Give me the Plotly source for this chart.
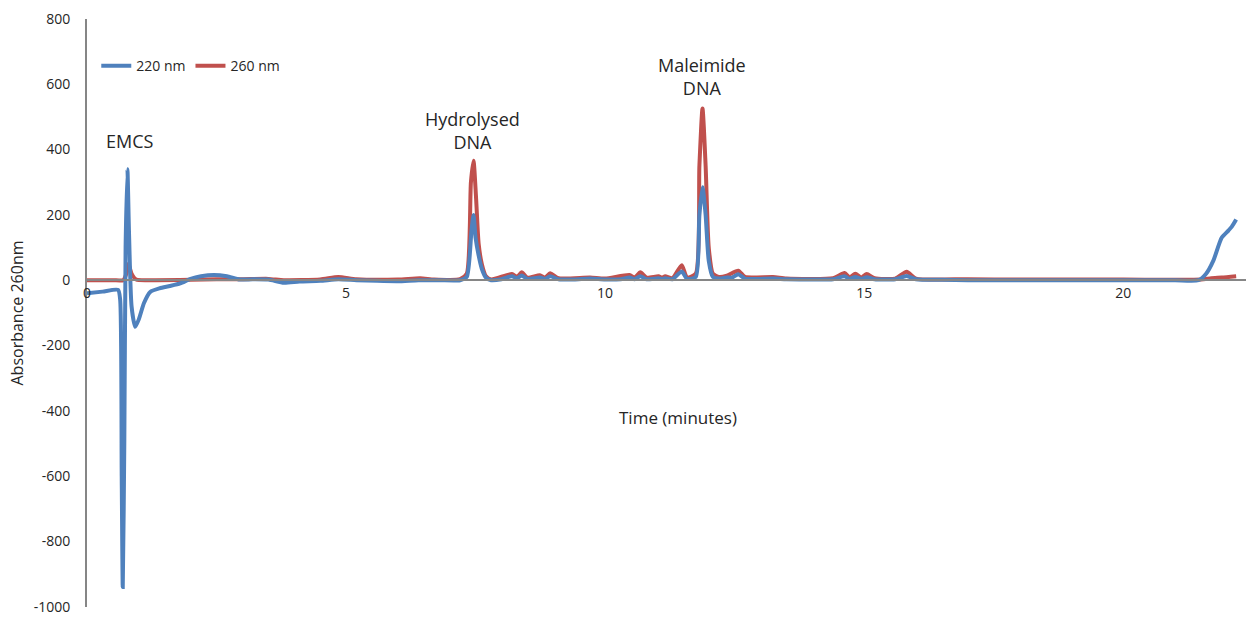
import plotly.graph_objects as go

# 220 nm trace (time in minutes, absorbance)
t_220 = [0.0, 0.3, 0.6, 0.64, 0.67, 0.69, 0.72, 0.745, 0.78, 0.81, 0.86, 0.93, 1.0, 1.1, 1.22, 1.4, 1.6, 1.8,
         2.0, 2.2, 2.45, 2.7, 2.95, 3.2, 3.5, 3.8, 4.1, 4.5, 4.85, 5.2, 5.6, 6.0, 6.4, 6.8, 7.2, 7.33, 7.42,
         7.46, 7.5, 7.56, 7.62, 7.7, 7.8, 8.0, 8.2, 8.3, 8.39, 8.5, 8.74, 8.84, 8.94, 9.1, 9.4, 9.71, 10.0,
         10.3, 10.47, 10.57, 10.68, 10.8, 11.03, 11.1, 11.16, 11.3, 11.48, 11.58, 11.75, 11.82, 11.88, 11.94,
         12.0, 12.08, 12.2, 12.35, 12.45, 12.57, 12.7, 13.0, 13.24, 13.5, 14.0, 14.4, 14.62, 14.72, 14.83,
         14.94, 15.05, 15.2, 15.6, 15.82, 16.0, 16.5, 17.0, 18.0, 19.0, 20.0, 21.0, 21.45, 21.6, 21.74, 21.9,
         22.03, 22.1, 22.18]
v_220 = [-40, -35, -30, -60, -600, -940, -500, 100, 340, 150, -80, -143, -120, -70, -36, -25, -18, -10,
         4, 12, 16, 12, 2, 3, 2, -8, -4, -2, 3, 0, -2, -3, 0, 0, 0, 10, 150,
         200, 130, 75, 35, 8, 0, 3, 12, 6, 14, 4, 8, 4, 12, 3, 2, 5, 2,
         3, 8, 3, 12, 3, 6, 4, 6, 3, 27, 4, 10, 200, 285, 200,
         60, 10, 5, 8, 8, 18, 5, 4, 5, 3, 2, 3, 12, 4, 10,
         4, 9, 3, 3, 13, 3, 1, 0, 0, 0, 0, 0, 0, 20, 60, 130,
         152, 165, 186]

# 260 nm trace
t_260 = [0.0, 0.5, 0.7, 0.76, 0.8, 0.86, 0.95, 1.2, 2.0, 2.5, 3.0, 3.5, 3.8, 4.5, 4.85, 5.2, 6.0, 6.43,
         6.7, 7.2, 7.33, 7.41, 7.46, 7.51, 7.56, 7.62, 7.7, 7.8, 8.2, 8.3, 8.39, 8.5, 8.74, 8.84, 8.94,
         9.1, 9.71, 10.0, 10.47, 10.57, 10.68, 10.8, 11.03, 11.1, 11.16, 11.3, 11.48, 11.58, 11.75, 11.82,
         11.88, 11.94, 12.0, 12.08, 12.2, 12.35, 12.57, 12.7, 13.24, 13.5, 14.4, 14.62, 14.72, 14.83,
         14.94, 15.05, 15.2, 15.6, 15.82, 16.0, 17.0, 18.0, 20.0, 21.5, 21.7, 21.9, 22.18]
v_260 = [0, 0, 0, 20, 50, 20, 2, 0, 1, 3, 3, 4, 0, 2, 10, 3, 2, 6,
         2, 3, 20, 300, 366, 250, 110, 50, 12, 2, 19, 10, 24, 8, 15, 8, 21,
         6, 8, 5, 16, 8, 24, 8, 12, 8, 12, 6, 46, 8, 20, 350,
         526, 350, 100, 20, 10, 14, 29, 10, 10, 5, 6, 22, 8, 20,
         8, 19, 6, 5, 26, 5, 3, 2, 2, 2, 6, 8, 12]

x_ticks = [0, 5, 10, 15, 20]
y_ticks = [800, 600, 400, 200, 0, -200, -400, -600, -800, -1000]

peak_labels = ["EMCS", "Hydrolysed<br>DNA", "Maleimide<br>DNA"]
peak_x = [0.83, 7.45, 11.87]
peak_y = [427, 457, 625]

BLUE = "#4F81BD"
RED = "#C0504D"
FONT = "Open Sans"
TXT = "#262626"

fig = go.Figure()
fig.add_trace(go.Scatter(x=t_260, y=v_260, mode="lines", name="260 nm",
                         line=dict(color=RED, width=4, shape="spline", smoothing=0.6),
                         legendrank=2))
fig.add_trace(go.Scatter(x=t_220, y=v_220, mode="lines", name="220 nm",
                         line=dict(color=BLUE, width=4, shape="spline", smoothing=0.6),
                         legendrank=1))

for txt, px, py in zip(peak_labels, peak_x, peak_y):
    fig.add_annotation(x=px, y=py, text=txt, showarrow=False, xref="x", yref="y",
                       font=dict(family=FONT, size=18, color=TXT), yanchor="middle")

fig.add_annotation(x=11.4, y=-422, text="Time (minutes)", showarrow=False, xref="x", yref="y",
                   font=dict(family=FONT, size=17, color=TXT))

zero_pos = 1000 / 1800

fig.update_layout(
    width=1248, height=617,
    margin=dict(l=87, r=2, t=19, b=10, autoexpand=False),
    paper_bgcolor="white", plot_bgcolor="white",
    font=dict(family=FONT, size=14, color=TXT),
    showlegend=True,
    legend=dict(orientation="h", x=0.008, y=0.92, xanchor="left", yanchor="middle",
                font=dict(family=FONT, size=14, color=TXT), bgcolor="rgba(0,0,0,0)",
                itemwidth=30, tracegroupgap=0),
    xaxis=dict(range=[0, 22.37], tickvals=x_ticks, ticktext=[str(v) for v in x_ticks],
               showgrid=False, zeroline=False, showline=True, linecolor="#868686", linewidth=2,
               anchor="free", position=zero_pos, ticks="", automargin=False,
               tickfont=dict(size=14, color=TXT)),
    yaxis=dict(range=[-1001, 800], tickvals=y_ticks, ticktext=[str(v) for v in y_ticks],
               showgrid=False, zeroline=False, showline=True, linecolor="#868686", linewidth=2,
               ticks="", ticklabelstandoff=12, ticklabeloverflow="allow", automargin=False,
               tickfont=dict(size=14, color=TXT),
               title=dict(text="Absorbance 260nm", standoff=6,
                          font=dict(family=FONT, size=16, color=TXT))),
)

fig.write_html("out.html")
